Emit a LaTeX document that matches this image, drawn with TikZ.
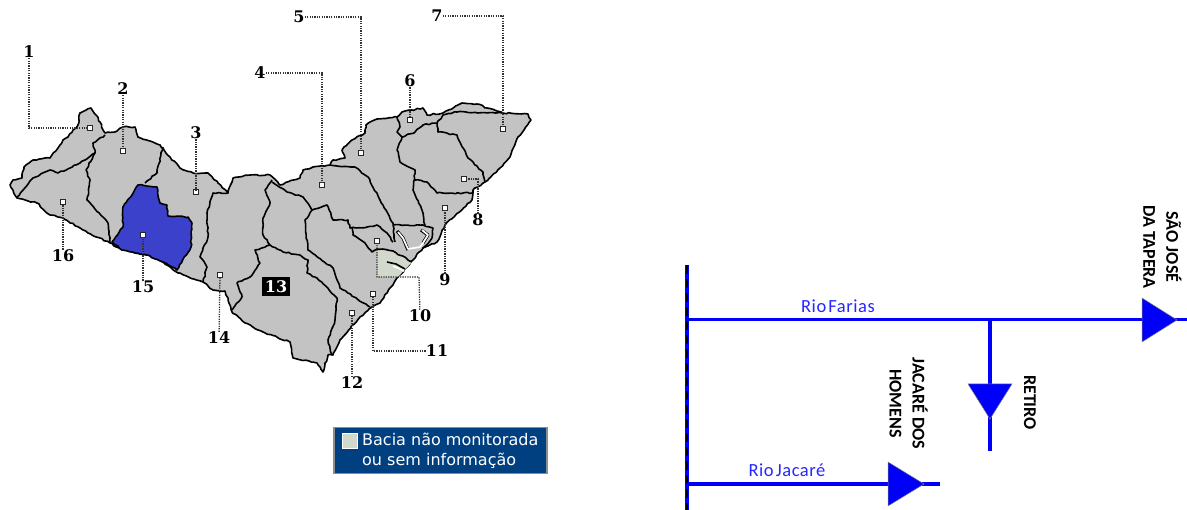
\documentclass[tikz,border=0pt]{standalone}
\usepackage{fontspec}
\setmainfont{DejaVu Serif}
\newfontfamily\legendfont{DejaVu Sans}
\newfontfamily\schemafont{Carlito}
\newfontfamily\riverfont[WordSpace=0.45,LetterSpace=3]{Carlito}
\usetikzlibrary{calc,decorations.pathmorphing}
\definecolor{basin}{HTML}{C3C3C3}
\definecolor{pale}{HTML}{D3D8CC}
\definecolor{monitored}{HTML}{3C41CC}
\definecolor{legendbg}{HTML}{004080}
\definecolor{riverblue}{HTML}{0000FA}
\pgfmathsetseed{7}
\tikzset{
  x=1pt,y=-1pt,
  border/.style={draw=black,line width=1.6pt,line join=round,decorate,decoration={random steps,segment length=3pt,amplitude=.7pt}},
  lakeedge/.style={draw=black,line width=3.2pt,line join=round},
  lake/.style={draw=white,line width=1.7pt,line join=round},
  leader/.style={draw=black!80,line width=1.3pt,dash pattern=on 1.3pt off 1.1pt},
  station/.style={draw=black!85,fill=white,line width=1.2pt,minimum size=4.6pt,inner sep=0pt,outer sep=0pt},
  num/.style={font=\bfseries\fontsize{16}{16}\selectfont,inner sep=0pt},
  river/.style={draw=riverblue,line width=3.6pt},
  gauge/.style={fill=riverblue,draw=black!50,line width=.5pt,line join=miter},
  rivername/.style={font=\riverfont\fontsize{18.5}{18.5}\selectfont,text=blue!85!white,inner sep=0pt},
  gaugename/.style={font=\schemafont\bfseries\fontsize{18}{23}\selectfont,rotate=-90,align=center,inner sep=0pt},
}
\begin{document}
\begin{tikzpicture}
\useasboundingbox (0,0) rectangle (1187,510);
% state outline
\path[fill=basin,border]
 (10,185)--(13,180)--(22,178)--(24,167)--(33,160)--(50,158)--(58,148)--(63,140)--(68,137)--(78,125)--(80,113)--(91,108)--(96,115)--(100,122)--(105,133)--(115,132)--(123,127)--(135,127)--(138,137)--(150,141)--(160,145)--(170,157)--(180,168)--(193,173)--(208,173)--(218,183)--(228,193)--(233,178)--(250,175)--(270,175)--(280,185)--(300,178)--(303,170)--(313,167)--(330,165)--(333,160)--(345,158)--(342,150)--(352,140)--(365,133)--(366,125)--(377,119)--(397,117)--(402,112)--(423,108)--(427,115)--(443,113)--(462,103)--(477,104)--(487,108)--(503,113)--(528,114)--(531,120)--(518,137)--(510,157)--(500,168)--(485,182)--(473,190)--(472,200)--(445,225)--(437,242)--(423,248)--(407,267)--(397,278)--(380,303)--(372,307)--(360,317)--(340,340)--(333,355)--(328,355)--(323,372)--(317,363)--(293,358)--(290,342)--(263,332)--(245,323)--(232,312)--(225,291)--(213,290)--(203,282)--(178,273)--(163,262)--(147,255)--(122,250)--(110,243)--(88,233)--(63,218)--(50,215)--(37,203)--(17,198)--cycle;
% pale basin
\path[fill=pale] (377,250)--(393,251)--(412,262)--(398,277)--(377,277)--cycle;
% internal borders
\draw[border] (17,197)--(33,178)--(50,170)--(58,173)--(80,163)--(95,153)--(93,143)--(105,135);
\draw[border] (95,153)--(86,170)--(90,180)--(87,200)--(108,223)--(110,243);
\draw[border] (163,147)--(157,173)--(145,183);
\draw[border] (228,193)--(213,193)--(207,213)--(208,237)--(200,257)--(207,267)--(203,282);
\draw[border] (272,180)--(265,190)--(270,203)--(263,218)--(263,235)--(270,245)--(255,250)--(260,263)--(250,277)--(237,283)--(242,297)--(232,310);
\draw[border] (270,245)--(283,252)--(300,255)--(308,260)--(307,273)--(317,278)--(337,298)--(335,320)--(328,340)--(332,355);
\draw[border] (272,182)--(287,192)--(303,197)--(312,210)--(305,220)--(308,250)--(333,268)--(340,288)--(370,307);
\draw[border] (312,210)--(327,205)--(333,220)--(348,220)--(350,228)--(367,227)--(377,225)--(387,233)--(393,242);
\draw[border] (352,227)--(353,235)--(365,243)--(372,252)--(377,249)--(393,251)--(412,262);
\draw[border] (330,165)--(355,167)--(368,177)--(380,200)--(393,223)--(395,242);
\draw[border] (393,225)--(423,225)--(433,228)--(432,238)--(423,248);
\draw[border] (397,117)--(400,127)--(397,132)--(402,137)--(415,132)--(423,125)--(437,123)--(443,115)--(457,112)--(503,113);
\draw[border] (402,137)--(397,150)--(400,162)--(415,170)--(413,190)--(423,213)--(425,225);
\draw[border] (437,123)--(438,132)--(457,135)--(468,158)--(483,172)--(485,182);
\draw[border] (415,180)--(427,182)--(437,193)--(472,193);
% lagoons
\draw[lakeedge] (397,231)--(403,238)--(408,250);
\draw[lakeedge] (421,230)--(428,235)--(423,243);
\draw[lake] (398,232)--(403,238)--(408,249)--(420,247)--(423,243)--(428,235)--(422,230);
\draw[draw=black,line width=1.6pt] (387,262)--(396,264)--(405,269);
\draw[lake] (393,266)--(404,271);
% monitored basin
\path[fill=monitored,border] (138,185)--(157,187)--(160,203)--(167,205)--(168,216)--(188,217)--(192,223)--(191,247)--(177,270)--(163,262)--(147,255)--(122,250)--(112,242)--(123,227)--(123,207)--(132,195)--cycle;
% stations
\foreach \n/\px/\py in {1/90/128,2/123/151,3/196/192,4/322/185,5/361/153,6/410/120,7/503/129,8/464/179,9/445/208,10/377/241,11/373/294,12/352/313,14/220/275,15/143/235,16/63/202}
  \node[station] (m\n) at (\px,\py) {};
% number labels
\foreach \n/\px/\py in {1/29/52,2/123/89,3/196/133,4/260/73,5/299/17,6/410/81,7/437/16,8/478/220,9/445/280,10/420/316,11/437/351,12/352/383,14/219/338,15/143/287,16/63/256}
  \node[num] (l\n) at (\px,\py) {\n};
\node[fill=black,text=white,font=\bfseries\fontsize{16}{16}\selectfont,minimum width=28pt,minimum height=19pt,inner sep=0pt] (l13) at (276,286.5) {13};
% leaders
\draw[leader] (l1) |- (m1);
\draw[leader] (l2) -- (m2);
\draw[leader] (l3) -- (m3);
\draw[leader] (l4) -| (m4);
\draw[leader] (l5) -| (m5);
\draw[leader] (l6) -- (m6);
\draw[leader] (l7) -| (m7);
\draw[leader] (l8) |- (m8);
\draw[leader] (l9) -- (m9);
\coordinate (k10) at (419,277);
\draw[leader] (l10) -- (k10) -| (m10);
\draw[leader] (l11) -| (m11);
\draw[leader] (l12) -- (m12);
\draw[leader] (l14) -- (m14);
\draw[leader] (l15) -- (m15);
\draw[leader] (l16) -- (m16);
% legend
\node[fill=legendbg,draw=black!45,line width=1.2pt,minimum width=213pt,minimum height=46pt,inner sep=0pt] (legend) at (440.5,450.5) {};
\node[fill=pale,draw=white,line width=.8pt,minimum width=15pt,minimum height=15pt,inner sep=0pt] (swatch) at (349.5,440.5) {};
\node[anchor=north west,text=white,font=\legendfont\fontsize{16}{20}\selectfont,align=left,inner sep=0pt] (legendtext) at (362,432.5) {Bacia não monitorada\\ou sem informação};
% river schema
\coordinate (riverTop) at (687,265);
\coordinate (riverBottom) at (687,510);
\coordinate (fariasStart) at (687,319.5);
\coordinate (fariasEnd) at (1187,319.5);
\coordinate (branch) at (990,319.5);
\coordinate (branchEnd) at (990,451);
\coordinate (jacareStart) at (687,484);
\coordinate (jacareEnd) at (940,484);
\draw[river] (riverTop) -- (riverBottom);
\draw[draw=black,line width=1.4pt,dash pattern=on 9pt off 5pt] (riverTop) -- (riverBottom);
\draw[river] (fariasStart) -- (fariasEnd);
\draw[river] (branch) -- (branchEnd);
\draw[river] (jacareStart) -- (jacareEnd);
\path[gauge] (1142,298)--(1177,320)--(1142,342)--cycle;
\path[gauge] (968,384)--(1012,384)--(990,419)--cycle;
\path[gauge] (888,462)--(924,484)--(888,506)--cycle;
\node[rivername] (farias) at (838,306) {Rio Farias};
\node[rivername] (jacare) at (787,470) {Rio Jacaré};
\node[gaugename] (sj) at (1162.5,247) {SÃO JOSÉ\\DA TAPERA};
\node[gaugename] (jh) at (908.5,403.5) {JACARÉ DOS\\HOMENS};
\node[gaugename] (ret) at (1030,402.5) {RETIRO};
\end{tikzpicture}
\end{document}
